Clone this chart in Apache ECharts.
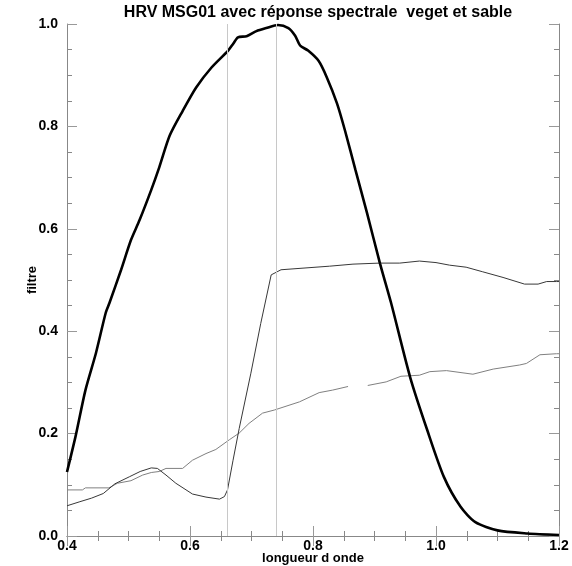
<!DOCTYPE html>
<html><head><meta charset="utf-8">
<script src="https://cdn.jsdelivr.net/npm/echarts@6/dist/echarts.min.js"></script>
<style>html,body{margin:0;padding:0;background:#fff}#c{width:572px;height:566px}</style>
</head><body><div id="c"></div>
<script>
// HRV filter response (thick black)
const hrvX = [0.40,0.414,0.43,0.447,0.463,0.469,0.488,0.504,0.518,0.537,0.550,0.567,0.588,0.610,0.635,0.662,0.670,0.678,0.692,0.708,0.724,0.743,0.760,0.771,0.779,0.792,0.809,0.822,0.839,0.852,0.869,0.888,0.909,0.927,0.958,0.986,1.013,1.040,1.064,1.100,1.149,1.20];
const hrvY = [0.125,0.195,0.285,0.357,0.436,0.455,0.52,0.578,0.617,0.676,0.720,0.782,0.830,0.876,0.915,0.948,0.961,0.974,0.976,0.986,0.992,0.998,0.992,0.977,0.958,0.948,0.928,0.897,0.845,0.792,0.715,0.630,0.532,0.455,0.31,0.206,0.115,0.057,0.027,0.011,0.005,0.002];
// vegetation reflectance (dark thin)
const vegX = [0.40,0.421,0.44,0.459,0.478,0.502,0.519,0.537,0.547,0.561,0.577,0.604,0.626,0.648,0.656,0.661,0.670,0.680,0.699,0.715,0.732,0.748,0.827,0.865,0.908,0.941,0.973,1.00,1.022,1.049,1.076,1.109,1.144,1.166,1.18,1.196,1.20];
const vegY = [0.059,0.067,0.074,0.083,0.102,0.116,0.126,0.133,0.132,0.119,0.103,0.082,0.076,0.072,0.077,0.090,0.148,0.210,0.318,0.415,0.510,0.520,0.527,0.531,0.533,0.533,0.537,0.534,0.529,0.525,0.516,0.505,0.492,0.492,0.497,0.497,0.497];
// sand reflectance (grey thin, with a gap)
const sandX = [0.40,0.425,0.43,0.468,0.482,0.504,0.523,0.537,0.550,0.561,0.588,0.604,0.626,0.642,0.664,0.680,0.696,0.718,0.737,0.778,0.810,0.832,0.857,0.873,0.889,0.919,0.943,0.973,0.990,1.017,1.060,1.093,1.136,1.147,1.169,1.196,1.20];
const sandY = [0.090,0.090,0.094,0.094,0.103,0.108,0.119,0.124,0.126,0.132,0.132,0.148,0.161,0.169,0.188,0.201,0.220,0.240,0.246,0.262,0.280,0.285,0.292,null,0.294,0.301,0.312,0.314,0.321,0.323,0.316,0.326,0.334,0.337,0.354,0.356,0.356];
// vertical reference lines
const refLines = [0.66, 0.74];
const titleText = 'HRV MSG01 avec réponse spectrale  veget et sable';
const xName = 'longueur d onde';
const yName = 'filtre';

const zip = (xs, ys) => xs.map((x, i) => [x, ys[i]]);
const font = 'Liberation Sans, Arial, Helvetica, sans-serif';
const tick = {show: true, inside: true, length: 10, lineStyle: {color: '#999', width: 1}};
const minor = {show: true, splitNumber: 4, length: 5, lineStyle: {color: '#888', width: 1}};
const axLine = {show: true, lineStyle: {color: '#888', width: 1}};
const lbl = {color: '#000', fontWeight: 'bold', fontSize: 14, fontFamily: font};

const chart = echarts.init(document.getElementById('c'), null, {renderer: 'canvas'});
chart.setOption({
  animation: false,
  backgroundColor: '#fff',
  title: {text: titleText, left: 313, textAlign: 'center', top: 0,
    textStyle: {fontSize: 16, fontWeight: 'bold', color: '#000', fontFamily: font}},
  graphic: [
    {type: 'text', x: 313, y: 558, silent: true,
     style: {text: xName, fill: '#000', font: 'bold 13px ' + font, align: 'center', verticalAlign: 'middle'}},
    {type: 'text', x: 32, y: 280, rotation: Math.PI / 2, silent: true,
     style: {text: yName, fill: '#000', font: 'bold 13px ' + font, align: 'center', verticalAlign: 'middle'}}
  ],
  grid: {left: 67, right: 13, top: 24, bottom: 30, outerBoundsMode: 'none', containLabel: false},
  xAxis: [
    {type: 'value', min: 0.4, max: 1.2, interval: 0.2, position: 'bottom',
     axisLine: axLine, axisTick: tick, minorTick: minor, splitLine: {show: false},
     axisLabel: Object.assign({margin: 3, formatter: v => v.toFixed(1)}, lbl)},
    {type: 'value', min: 0.4, max: 1.2, interval: 0.2, position: 'top',
     axisLine: axLine, axisTick: tick, minorTick: minor, splitLine: {show: false}, axisLabel: {show: false}}
  ],
  yAxis: [
    {type: 'value', min: 0, max: 1, interval: 0.2, position: 'left',
     axisLine: axLine, axisTick: tick, minorTick: minor, splitLine: {show: false},
     axisLabel: Object.assign({margin: 9, formatter: v => v.toFixed(1)}, lbl)},
    {type: 'value', min: 0, max: 1, interval: 0.2, position: 'right',
     axisLine: axLine, axisTick: tick, minorTick: minor, splitLine: {show: false}, axisLabel: {show: false}}
  ],
  series: [
    {type: 'line', data: [], z: 1, silent: true,
     markLine: {silent: true, symbol: ['none', 'none'], label: {show: false},
       lineStyle: {color: '#c8c8c8', width: 1, type: 'solid'},
       data: refLines.map(v => ({xAxis: v}))}},
    {type: 'line', data: zip(sandX, sandY), showSymbol: false, connectNulls: false, z: 2,
     lineStyle: {color: '#808080', width: 1}},
    {type: 'line', data: zip(vegX, vegY), showSymbol: false, z: 3,
     lineStyle: {color: '#383838', width: 1}},
    {type: 'line', data: zip(hrvX, hrvY), showSymbol: false, z: 4, smooth: 0.25,
     lineStyle: {color: '#000', width: 2.6}}
  ]
});
</script></body></html>
